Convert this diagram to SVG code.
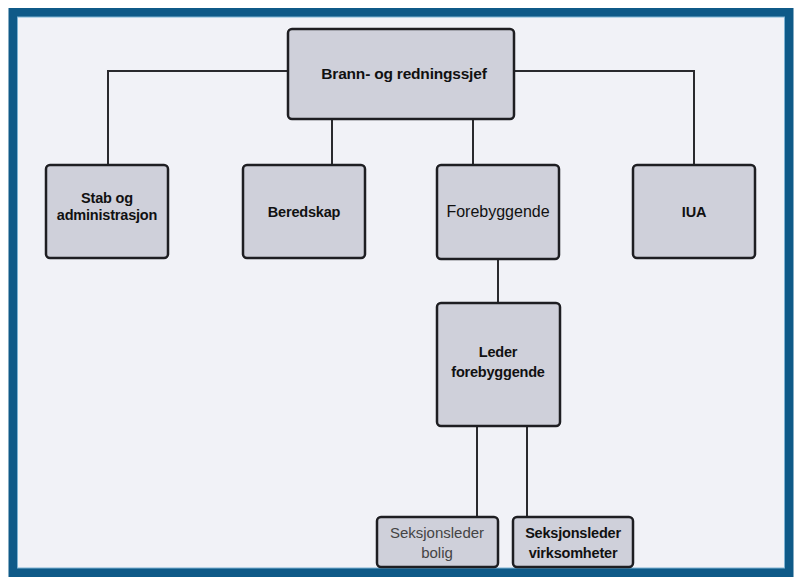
<svg xmlns="http://www.w3.org/2000/svg" width="801" height="578" viewBox="0 0 801 578">
<style>
.box{fill:#cfd0da;stroke:#1e1e22;stroke-width:2.5}
.ln{fill:none;stroke:#2a2a2e;stroke-width:2}
.t{font-family:"Liberation Sans",Arial,sans-serif;font-size:14.5px;font-weight:bold;fill:#111;text-anchor:middle;letter-spacing:-0.2px}
.r{font-weight:normal;font-size:16px;letter-spacing:0}
.g{font-weight:normal;font-size:15px;letter-spacing:0;fill:#444}
</style>
<rect x="0" y="0" width="801" height="578" fill="#ffffff"/>
<rect x="13" y="12.5" width="776" height="560" fill="#f1f2f7" stroke="#0f5a88" stroke-width="9"/>
<rect x="17.5" y="17" width="767" height="551" fill="none" stroke="#7fb3d3" stroke-width="1"/>
<g id="connectors">
<path class="ln" d="M288 71 H108 V165"/>
<path class="ln" d="M514 71 H694 V165"/>
<path class="ln" d="M332 119 V165"/>
<path class="ln" d="M473 119 V165"/>
<path class="ln" d="M498 259 V303"/>
<path class="ln" d="M477 426 V517"/>
<path class="ln" d="M527 426 V517"/>
</g>
<g id="n-sjef"><rect class="box" x="288" y="29" width="226" height="90" rx="4"/><text class="t" x="404" y="79" style="font-size:15.5px">Brann- og redningssjef</text></g>
<g id="n-stab"><rect class="box" x="46" y="165" width="122" height="93" rx="4"/><text class="t" x="107" y="203">Stab og</text><text class="t" x="107" y="220">administrasjon</text></g>
<g id="n-beredskap"><rect class="box" x="243" y="165" width="122" height="93" rx="4"/><text class="t" x="304" y="217">Beredskap</text></g>
<g id="n-forebyggende"><rect class="box" x="437" y="165" width="122" height="94" rx="4"/><text class="t r" x="498" y="217">Forebyggende</text></g>
<g id="n-ija"><rect class="box" x="633" y="165" width="122" height="93" rx="4"/><text class="t" x="694" y="217">IUA</text></g>
<g id="n-leder"><rect class="box" x="437" y="303" width="123" height="123" rx="4"/><text class="t" x="498" y="357">Leder</text><text class="t" x="498" y="377">forebyggende</text></g>
<g id="n-bolig"><rect class="box" x="377" y="517" width="121" height="50" rx="4"/><text class="t g" x="437" y="538">Seksjonsleder</text><text class="t g" x="437" y="558">bolig</text></g>
<g id="n-virk"><rect class="box" x="513" y="517" width="120" height="50" rx="4"/><text class="t" x="573" y="538">Seksjonsleder</text><text class="t" x="573" y="558">virksomheter</text></g>
</svg>
